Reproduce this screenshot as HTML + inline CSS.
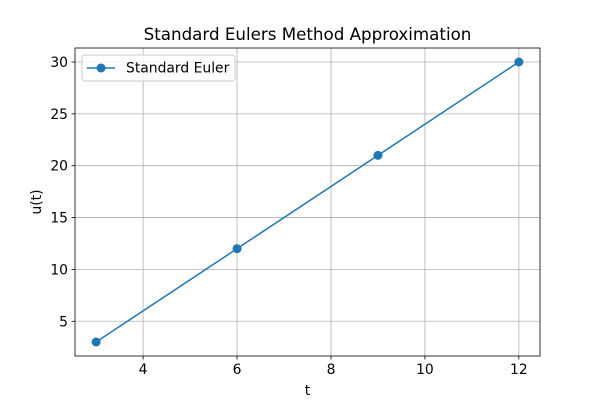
<!DOCTYPE html>
<html><head><meta charset="utf-8"><style>
body{margin:0;background:#fff;}
svg{display:block;font-family:"DejaVu Sans","Liberation Sans",sans-serif;}
</style></head><body>
<svg id="chart" width="600" height="400" xmlns="http://www.w3.org/2000/svg">
<rect width="600" height="400" fill="#fff"/>
<g id="grid"></g>
<g id="ticks"></g>
<g id="series"></g>
<rect x="75" y="48" width="465" height="308" fill="none" stroke="#000" stroke-width="0.8"/>
<text x="307.5" y="40" font-size="16.7" text-anchor="middle">Standard Eulers Method Approximation</text>
<text x="307.5" y="395" font-size="13.9" text-anchor="middle">t</text>
<text x="0" y="0" font-size="13.9" text-anchor="middle" transform="translate(41,202) rotate(-90)">u(t)</text>
<g>
<rect x="82" y="55" width="153" height="26" rx="3" fill="#fff" fill-opacity="0.8" stroke="#ccc"/>
<line x1="87" y1="68" x2="115" y2="68" stroke="#1f77b4" stroke-width="1.5"/>
<circle cx="101" cy="68" r="4.5" fill="#1f77b4"/>
<text x="126" y="72.5" font-size="13.9">Standard Euler</text>
</g>
</svg>
<script>
const xs = [3, 6, 9, 12];
const ys = [3, 12, 21, 30];
const xTicks = [4, 6, 8, 10, 12];
const yTicks = [5, 10, 15, 20, 25, 30];

const L = 75, R = 540, T = 48, B = 356;
const xMin = 2.55, xMax = 12.45, yMin = 1.65, yMax = 31.35;
const sx = v => L + (v - xMin) / (xMax - xMin) * (R - L);
const sy = v => B - (v - yMin) / (yMax - yMin) * (B - T);
const NS = "http://www.w3.org/2000/svg";
function mk(tag, attrs, parent) {
  const e = document.createElementNS(NS, tag);
  for (const k in attrs) e.setAttribute(k, attrs[k]);
  parent.appendChild(e);
  return e;
}
const grid = document.getElementById('grid');
const ticks = document.getElementById('ticks');
const series = document.getElementById('series');

xTicks.forEach(v => {
  const x = sx(v);
  const g = mk('line', {x1: x, x2: x, y1: T, y2: B, stroke: '#b0b0b0', 'stroke-width': 0.8}, grid);
  
  
  const t = mk('line', {x1: x, x2: x, y1: B, y2: B + 3.5, stroke: '#000', 'stroke-width': 0.8}, ticks);
  
  
  const l = mk('text', {x: x, y: B + 18, 'font-size': 13.9, 'text-anchor': 'middle'}, ticks);
  l.textContent = v;
  
  
});
yTicks.forEach(v => {
  const y = sy(v);
  const g = mk('line', {x1: L, x2: R, y1: y, y2: y, stroke: '#b0b0b0', 'stroke-width': 0.8}, grid);
  
  
  const t = mk('line', {x1: L - 3.5, x2: L, y1: y, y2: y, stroke: '#000', 'stroke-width': 0.8}, ticks);
  
  
  const l = mk('text', {x: L - 7, y: y + 5, 'font-size': 13.9, 'text-anchor': 'end'}, ticks);
  l.textContent = v;
  
  
});

const pts = xs.map((x, i) => sx(x) + ',' + sy(ys[i])).join(' ');
const line = mk('polyline', {points: pts, fill: 'none', stroke: '#1f77b4', 'stroke-width': 1.5}, series);


xs.forEach((x, i) => {
  const c = mk('circle', {cx: sx(x), cy: sy(ys[i]), r: 4.5, fill: '#1f77b4'}, series);
  
  
});
</script>
</body></html>
